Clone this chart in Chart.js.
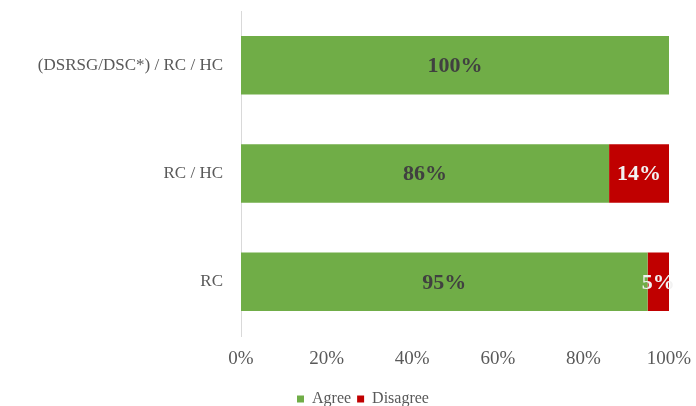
<!DOCTYPE html>
<html>
<head>
<meta charset="utf-8">
<script src="https://cdn.jsdelivr.net/npm/chart.js@4"></script>
<style>
  body { margin: 0; background: #fff; }
  .wrap { width: 696px; height: 406px; }
</style>
</head>
<body>
<div class="wrap"><canvas id="myChart"></canvas></div>
<script>
const categories = ["(DSRSG/DSC*) / RC / HC", "RC / HC", "RC"]
const agreeValues = [100, 86, 95]
const disagreeValues = [0, 14, 5]
const xTicks = [0, 20, 40, 60, 80, 100]

const fontFamily = "'Liberation Serif', 'DejaVu Serif', serif"

// draws the percent text in the middle of each bar piece
const barLabels = {
  id: "barLabels",
  afterDatasetsDraw(chart) {
    const ctx = chart.ctx
    ctx.save()
    ctx.font = "bold 22px " + fontFamily
    ctx.textAlign = "center"
    ctx.textBaseline = "middle"
    chart.data.datasets.forEach((ds, i) => {
      const meta = chart.getDatasetMeta(i)
      meta.data.forEach((bar, j) => {
        const v = ds.data[j]
        if (!v) return
        const x = (bar.x + bar.base) / 2
        ctx.fillStyle = ds.labelColor
        ctx.fillText(v + "%", x, bar.y + 1)
      })
    })
    ctx.restore()
  },
}

// legend sits a bit right of the middle in the original
const shiftLegend = {
  id: "shiftLegend",
  afterLayout(chart) {
    chart.legend.left += 15
    chart.legend.right += 15
  },
}

const ctx = document.querySelector("#myChart").getContext("2d")
new Chart(ctx, {
  type: "bar",
  data: {
    labels: categories,
    datasets: [
      {
        label: "Agree",
        data: agreeValues,
        backgroundColor: "#70ad47",
        labelColor: "#404040",
        categoryPercentage: 0.54,
        barPercentage: 1,
      },
      {
        label: "Disagree",
        data: disagreeValues,
        backgroundColor: "#c00000",
        labelColor: "#f2f2f2",
        categoryPercentage: 0.54,
        barPercentage: 1,
      },
    ],
  },
  options: {
    indexAxis: "y",
    responsive: true,
    maintainAspectRatio: false,
    animation: false,
    layout: { padding: { top: 11, left: 0, right: 0, bottom: -11 } },
    scales: {
      x: {
        stacked: true,
        min: 0,
        max: 100,
        afterBuildTicks: (scale) => {
          scale.ticks = xTicks.map((v) => ({ value: v }))
        },
        afterFit: (scale) => {
          scale.height = 49
          scale.paddingLeft = 0
          scale.paddingRight = 27
        },
        grid: { display: false, drawTicks: false },
        border: { display: false },
        ticks: {
          padding: 12,
          color: "#595959",
          font: { family: fontFamily, size: 19 },
          callback: (v) => v + "%",
        },
      },
      y: {
        stacked: true,
        afterFit: (scale) => {
          scale.width = 241
          scale.paddingTop = 0
          scale.paddingBottom = 0
        },
        grid: { display: false, drawTicks: false },
        border: { display: true, color: "#d9d9d9", width: 1 },
        ticks: {
          padding: 18,
          color: "#595959",
          font: { family: fontFamily, size: 17 },
        },
      },
    },
    plugins: {
      legend: {
        position: "bottom",
        labels: {
          boxWidth: 7,
          boxHeight: 7,
          padding: 6,
          color: "#595959",
          font: { family: fontFamily, size: 16 },
        },
      },
      tooltip: { enabled: false },
    },
  },
  plugins: [barLabels, shiftLegend],
})
</script>
</body>
</html>
